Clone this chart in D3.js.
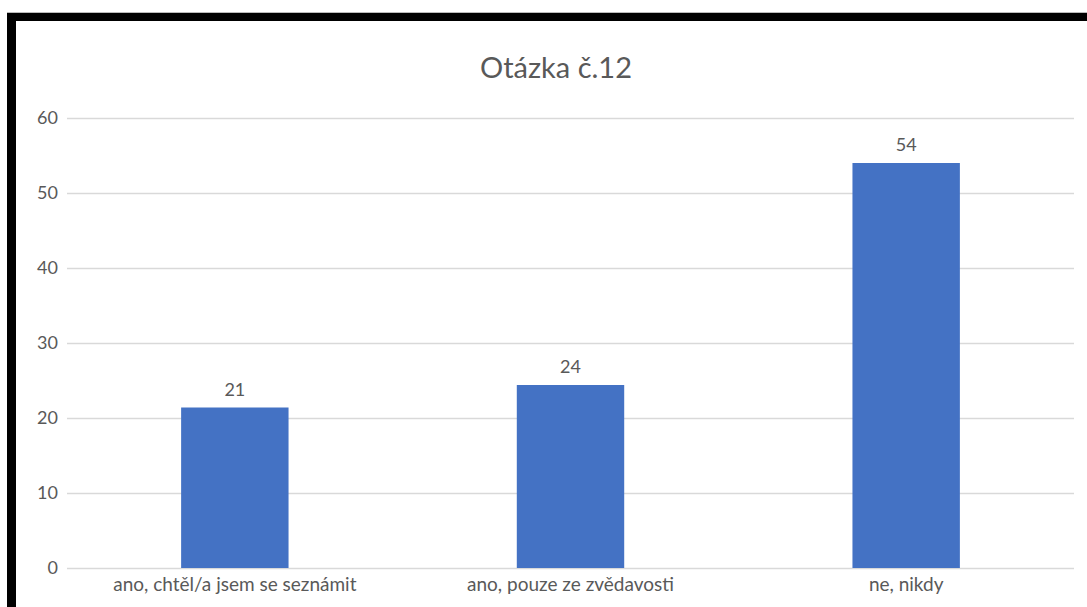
<!DOCTYPE html>
<html>
<head>
<meta charset="utf-8">
<script src="https://cdn.jsdelivr.net/npm/d3@7"></script>
<style>
    body { margin: 0; background: #fff; }
    svg text { font-family: Lato, "Open Sans", sans-serif; fill: #595959; }
</style>
</head>
<body>
<div id="chart"></div>
<script>
var categories = ["ano, chtěl/a jsem se seznámit", "ano, pouze ze zvědavosti", "ne, nikdy"];
var values = [21.4, 24.4, 54];
var valueLabels = ["21", "24", "54"];
var yTicks = [0, 10, 20, 30, 40, 50, 60];
var title = "Otázka č.12";

var Chart = (function() {

    var width = 1087;
    var height = 607;
    var margin = { top: 118, right: 13, bottom: 39, left: 67 };

    function drawFrame(svg) {
        svg.append("rect")
          .attr("x", 0).attr("y", 0)
          .attr("width", width).attr("height", height)
          .attr("fill", "#fff");
        // black frame from the screenshot (top and left only)
        svg.append("line")
          .attr("x1", 7).attr("x2", width)
          .attr("y1", 12.5).attr("y2", 12.5)
          .attr("stroke", "#bbb").attr("stroke-width", 1);
        svg.append("rect")
          .attr("x", 7).attr("y", 13)
          .attr("width", width - 7).attr("height", 8)
          .attr("fill", "#000");
        svg.append("rect")
          .attr("x", 7).attr("y", 13)
          .attr("width", 9).attr("height", height - 13)
          .attr("fill", "#000");
    }

    function init(elem) {
        var svg = d3.select(elem).append("svg")
          .attr("width", width)
          .attr("height", height);

        drawFrame(svg);

        var x = d3.scaleBand()
          .domain(categories)
          .range([margin.left, width - margin.right])
          .padding(0);

        var y = d3.scaleLinear()
          .domain([0, 60])
          .range([height - margin.bottom, margin.top]);

        var barWidth = x.bandwidth() * 0.32;

        // gridlines
        svg.append("g")
          .selectAll("line")
          .data(yTicks)
          .join("line")
          .attr("x1", margin.left)
          .attr("x2", width - margin.right)
          .attr("y1", function(d) { return Math.round(y(d)) + 0.5; })
          .attr("y2", function(d) { return Math.round(y(d)) + 0.5; })
          .attr("stroke", "#d9d9d9")
          .attr("stroke-width", 1.5);

        // y axis labels
        var yAxis = d3.axisLeft(y).tickValues(yTicks).tickSize(0).tickPadding(9);
        svg.append("g")
          .attr("transform", "translate(" + margin.left + ",0)")
          .call(yAxis)
          .call(function(g) { g.select(".domain").remove(); })
          .selectAll("text")
          .style("font-size", "18px")
          .style("fill", "#595959")
          .style("font-family", "Lato, sans-serif");

        // bars
        svg.append("g")
          .selectAll("rect")
          .data(values)
          .join("rect")
          .attr("x", function(d, i) { return x(categories[i]) + x.bandwidth() / 2 - barWidth / 2; })
          .attr("y", function(d) { return y(d); })
          .attr("width", barWidth)
          .attr("height", function(d) { return y(0) - y(d); })
          .attr("fill", "#4472c4");

        // value labels
        svg.append("g")
          .selectAll("text")
          .data(values)
          .join("text")
          .attr("x", function(d, i) { return x(categories[i]) + x.bandwidth() / 2; })
          .attr("y", function(d) { return y(d) - 12; })
          .attr("text-anchor", "middle")
          .style("font-size", "18px")
          .text(function(d, i) { return valueLabels[i]; });

        // x axis labels
        var xAxis = d3.axisBottom(x).tickSize(0).tickPadding(10);
        svg.append("g")
          .attr("transform", "translate(0," + y(0) + ")")
          .call(xAxis)
          .call(function(g) { g.select(".domain").remove(); })
          .selectAll("text")
          .style("font-size", "19px")
          .style("fill", "#595959")
          .style("font-family", "Lato, sans-serif");

        svg.append("text")
          .attr("x", 556)
          .attr("y", 78)
          .attr("text-anchor", "middle")
          .style("font-size", "29px")
          .text(title);
    }

    return {
        "init": init
    };

})();

Chart.init("#chart");
</script>
</body>
</html>
